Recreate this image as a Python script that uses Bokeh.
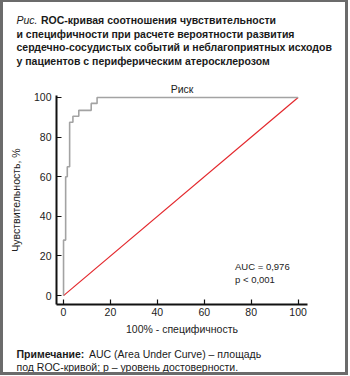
from bokeh.plotting import figure
from bokeh.layouts import column, row
from bokeh.models import Label, Range1d, FixedTicker
from bokeh.core.properties import value
from bokeh.embed import file_html
from bokeh.resources import INLINE

# ROC curve (100% - specificity, sensitivity)
fpr = [0, 0, 0.9, 1.6, 2.6, 4.0, 6.5, 11.8, 14.3, 100]
tpr = [0, 28, 60, 65, 87.5, 90.5, 93.5, 97, 100, 100]
ref_x = [0, 100]
ref_y = [0, 100]
ticks = [0, 20, 40, 60, 80, 100]

title_text = "Риск"
x_label = "100% - специфичность"
y_label = "Чувствительность, %"
auc_text = "AUC = 0,976"
p_text = "p < 0,001"
fig_prefix = "Рис."
header_lines = [
    "ROC-кривая соотношения чувствительности",
    "и специфичности при расчете вероятности развития",
    "сердечно-сосудистых событий и неблагоприятных исходов",
    "у пациентов с периферическим атеросклерозом",
]
note_bold = "Примечание:"
note_lines = [
    "AUC (Area Under Curve) – площадь",
    "под ROC-кривой; р – уровень достоверности.",
]

FONT = "Liberation Sans"
W = 342
H_HEAD, H_CHART, H_FOOT = 70, 268, 32


def text_panel(height):
    f = figure(width=W, height=height, output_backend="svg", toolbar_location=None,
               x_range=Range1d(0, W), y_range=Range1d(height, 0),
               x_axis_type=None, y_axis_type=None,
               min_border=0, min_border_left=0, min_border_right=0,
               min_border_top=0, min_border_bottom=0)
    f.outline_line_color = None
    f.grid.visible = False
    return f


def put(f, txt, x, y, style="normal", size="10.5px"):
    f.text(x=[x], y=[y], text=[txt], text_font=value(FONT),
           text_font_size=value(size), text_font_style=value(style),
           text_color="#1a1a1a", text_baseline="alphabetic", text_align="left")


# header
head = text_panel(H_HEAD)
put(head, fig_prefix, 13, 17.5, style="italic")
put(head, header_lines[0], 37.5, 17.5, style="bold")
for i, line in enumerate(header_lines[1:]):
    put(head, line, 13, 31 + 13.5 * i, style="bold")

# chart
p = figure(
    width=W, height=H_CHART,
    output_backend="svg", toolbar_location=None,
    x_range=Range1d(-3, 104), y_range=Range1d(-4.5, 101),
    min_border_left=53, min_border_right=38,
    min_border_top=23, min_border_bottom=36,
    title=title_text,
)
p.outline_line_color = None
p.grid.visible = False

p.title.align = "center"
p.title.text_font = FONT
p.title.text_font_size = "10.5px"
p.title.text_font_style = "normal"
p.title.text_color = "#222222"
p.title.standoff = 2

for ax in (p.xaxis[0], p.yaxis[0]):
    ax.ticker = FixedTicker(ticks=ticks)
    ax.minor_tick_line_color = None
    ax.major_tick_in = 5
    ax.major_tick_out = 0
    ax.axis_line_width = 2
    ax.axis_line_color = "#111111"
    ax.major_tick_line_color = "#111111"
    ax.major_tick_line_width = 1.2
    ax.major_label_text_font = FONT
    ax.major_label_text_font_size = "10.5px"
    ax.major_label_text_color = "#222222"
    ax.axis_label_text_font = FONT
    ax.axis_label_text_font_size = "10.5px"
    ax.axis_label_text_font_style = "normal"
    ax.axis_label_text_color = "#222222"

p.xaxis.axis_label = x_label
p.yaxis.axis_label = y_label
p.xaxis.major_label_standoff = 3
p.xaxis.axis_label_standoff = 4
p.yaxis.major_label_standoff = 5
p.yaxis.axis_label_standoff = 9

p.line(ref_x, ref_y, line_color="#e3262b", line_width=1.2)
p.step(fpr, tpr, mode="after", line_color="#a3a3a3", line_width=1.6)

p.add_layout(Label(x=73.1, y=14.5, text=auc_text, text_font=FONT,
                   text_font_size="9.5px", text_color="#222222",
                   text_baseline="alphabetic"))
p.add_layout(Label(x=73.1, y=8.3, text=p_text, text_font=FONT,
                   text_font_size="9.5px", text_color="#222222",
                   text_baseline="alphabetic"))

# footer
foot = text_panel(H_FOOT)
put(foot, note_bold, 13, 13, style="bold")
put(foot, note_lines[0], 85.5, 13)
put(foot, note_lines[1], 13, 26)

layout = column(row(head), p, row(foot), spacing=0,
                styles={"border-style": "solid", "border-color": "#6b6b6b",
                        "border-width": "2px 3px 3px 3px"})

open("out.html", "w").write(file_html(layout, INLINE))
